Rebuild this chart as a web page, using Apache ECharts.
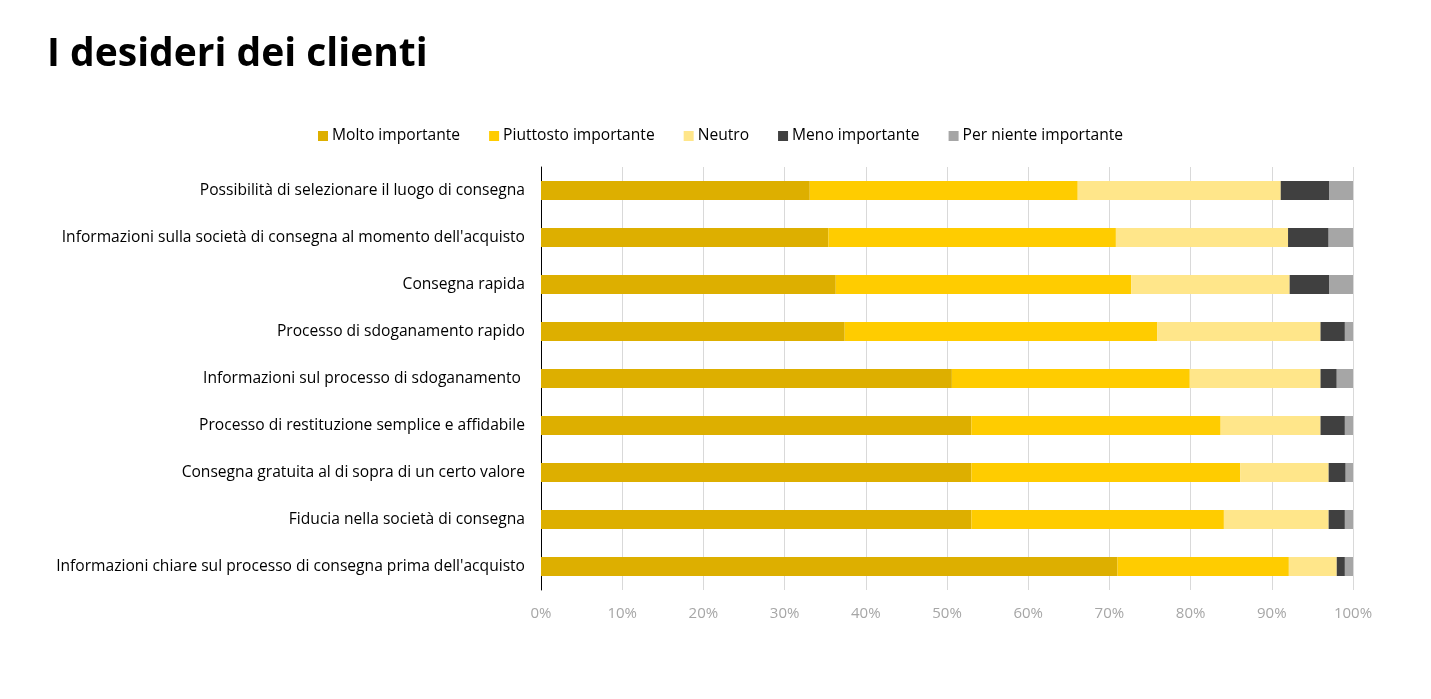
<!DOCTYPE html>
<html>
<head>
<meta charset="utf-8">
<script src="https://cdn.jsdelivr.net/npm/echarts@6/dist/echarts.min.js"></script>
<style>
html,body{margin:0;padding:0;background:#fff;}
#chart{width:1431px;height:699px;}
</style>
</head>
<body>
<div id="chart"></div>
<script>
const categories = [
  "Possibilità di selezionare il luogo di consegna",
  "Informazioni sulla società di consegna al momento dell'acquisto",
  "Consegna rapida",
  "Processo di sdoganamento rapido",
  "Informazioni sul processo di sdoganamento ",
  "Processo di restituzione semplice e affidabile",
  "Consegna gratuita al di sopra di un certo valore",
  "Fiducia nella società di consegna",
  "Informazioni chiare sul processo di consegna prima dell'acquisto"
];
const seriesNames = ["Molto importante","Piuttosto importante","Neutro","Meno importante","Per niente importante"];
const molto      = [33.1, 35.4, 36.3, 37.4, 50.6, 53.0, 53.0, 53.0, 71.0];
const piuttosto  = [33.0, 35.4, 36.4, 38.5, 29.3, 30.7, 33.1, 31.1, 21.1];
const neutro     = [25.0, 21.2, 19.5, 20.1, 16.1, 12.3, 10.9, 12.9, 5.9];
const meno       = [6.0, 5.0, 4.9, 3.0, 2.0, 3.0, 2.1, 2.0, 1.0];
const perNiente  = [2.9, 3.0, 2.9, 1.0, 2.0, 1.0, 0.9, 1.0, 1.0];
const xTicks = [0,10,20,30,40,50,60,70,80,90,100];
const colors = ["#DDAF00","#FFCC00","#FFE68A","#404040","#A6A6A6"];
const FONT = "'Open Sans', 'Noto Sans', sans-serif";

const values = [molto, piuttosto, neutro, meno, perNiente];
const chart = echarts.init(document.getElementById('chart'));
chart.setOption({
  animation: false,
  color: colors,
  title: {
    text: "I desideri dei clienti",
    left: 42, top: 30,
    textStyle: {fontFamily: FONT, fontWeight: 'bold', fontSize: 39, color: '#000'}
  },
  legend: {
    top: 123, left: 313,
    itemWidth: 10, itemHeight: 10, itemGap: 29,
    icon: 'rect',
    textStyle: {fontFamily: FONT, fontSize: 15.6, color: '#000', padding: [0,0,0,-1]},
    data: seriesNames
  },
  grid: {left: 541, right: 78, top: 167, height: 423, containLabel: false},
  xAxis: {
    type: 'value', min: 0, max: 100, interval: 10,
    axisLine: {show: false}, axisTick: {show: false},
    splitLine: {show: true, lineStyle: {color: '#D9D9D9', width: 1}},
    axisLabel: {
      formatter: v => xTicks.includes(v) ? v + '%' : '',
      fontFamily: FONT, fontSize: 15, color: '#A6A6A6', margin: 16
    }
  },
  yAxis: {
    type: 'category', inverse: true, data: categories,
    axisLine: {show: true, lineStyle: {color: '#000', width: 1}},
    axisTick: {show: false},
    axisLabel: {fontFamily: FONT, fontSize: 15.6, color: '#000', margin: 16}
  },
  series: seriesNames.map((n, i) => ({
    name: n, type: 'bar', stack: 'total', barWidth: 19,
    data: values[i]
  }))
});
</script>
</body>
</html>
